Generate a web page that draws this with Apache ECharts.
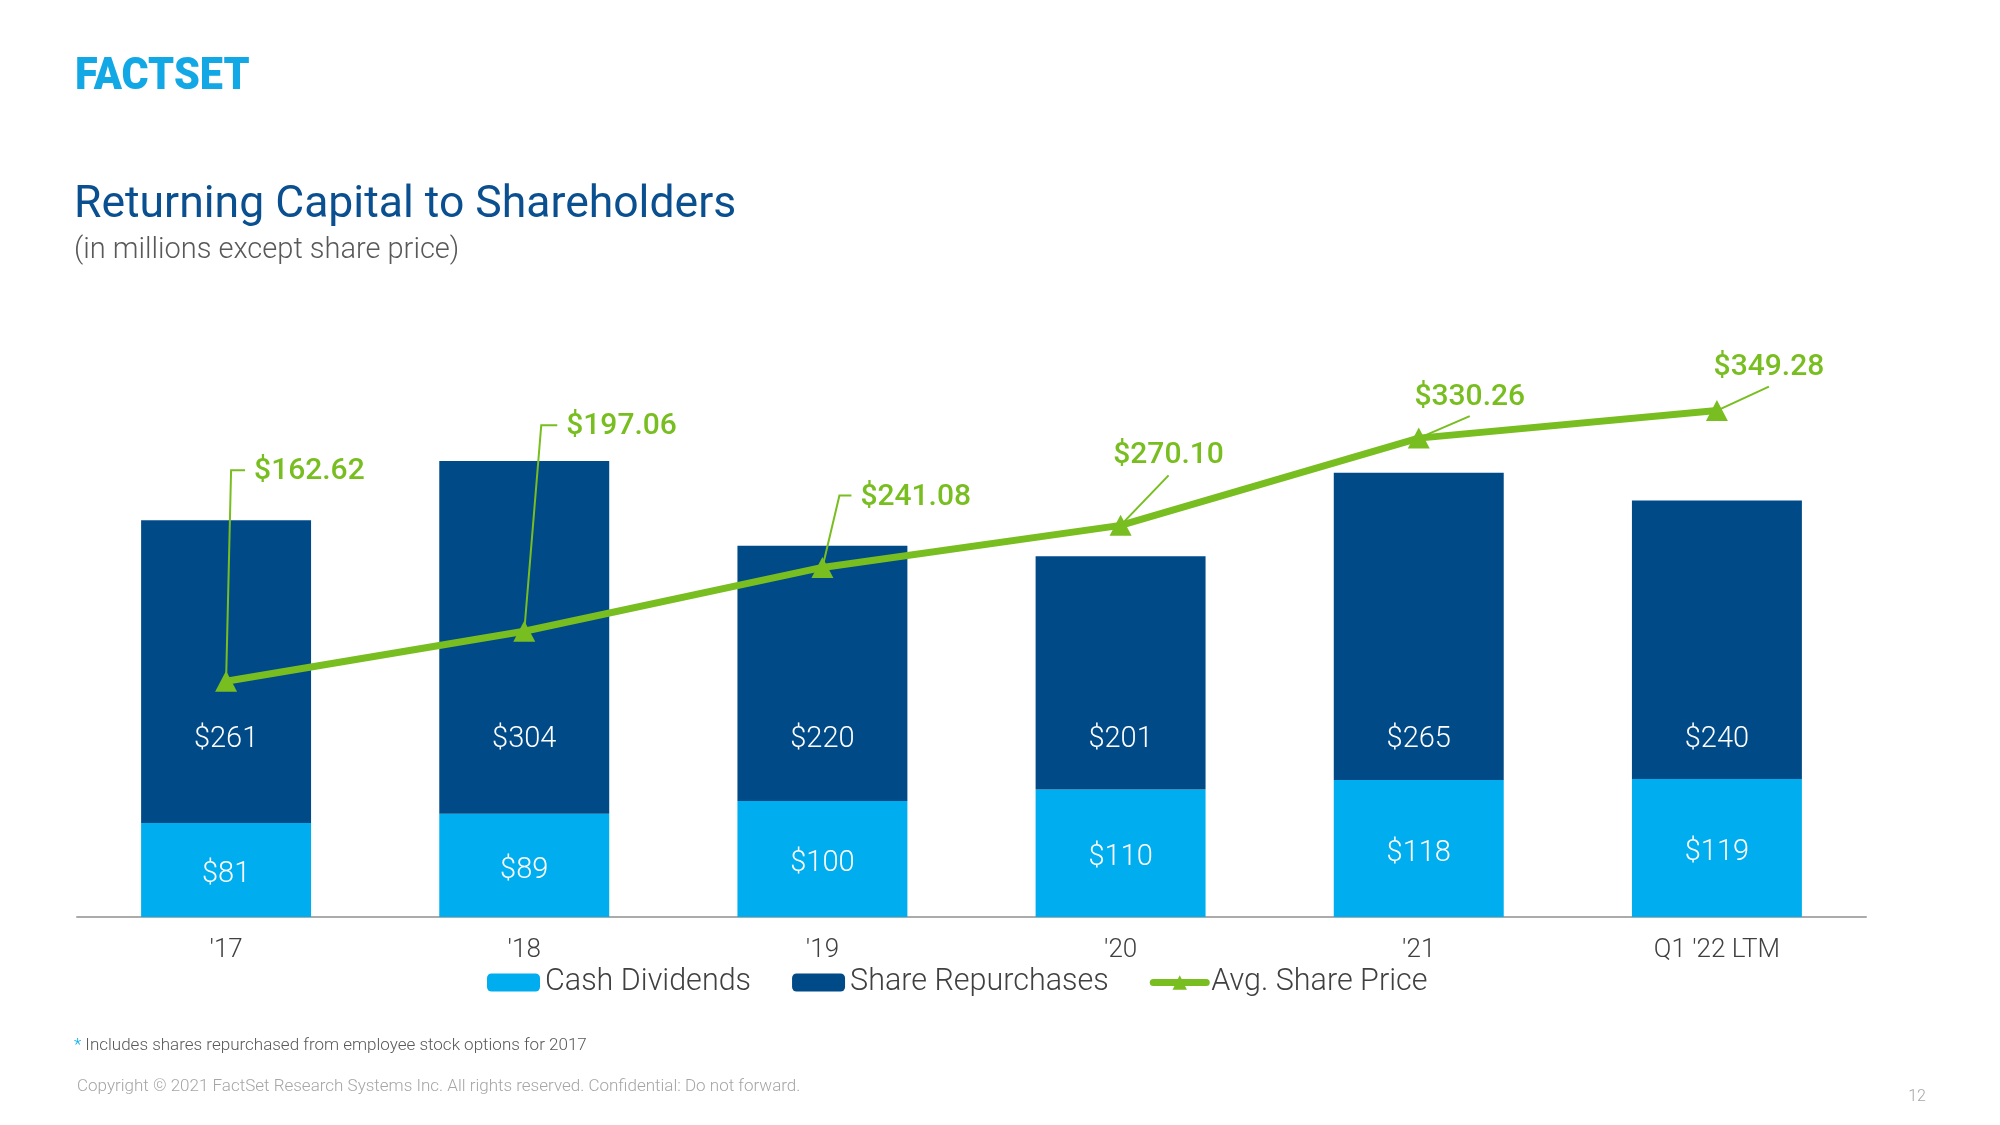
<!DOCTYPE html>
<html>
<head>
<meta charset="utf-8">
<script src="https://cdn.jsdelivr.net/npm/echarts@6/dist/echarts.min.js"></script>
<style>
  html, body { margin: 0; padding: 0; background: #ffffff; }
  #chart { width: 2000px; height: 1125px; }
</style>
</head>
<body>
<div id="chart"></div>
<script>
// ---- Data ----
const categories = ["'17", "'18", "'19", "'20", "'21", "Q1 '22 LTM"];
const cashDividends = [81, 89, 100, 110, 118, 119];
const shareRepurchases = [261, 304, 220, 201, 265, 240];
const avgSharePrice = [162.62, 197.06, 241.08, 270.10, 330.26, 349.28];
const seriesNames = ['Cash Dividends', 'Share Repurchases', 'Avg. Share Price'];

// ---- Styles ----
const C_DIV = '#00ADEF';
const C_REP = '#004A88';
const C_GREEN = '#78BE20';
const FONT = 'Roboto';

// callout offsets (px, relative to each price point): leader end, tick end, text anchor, text align
const calloutLayout = [
  { leader: [5, -211], tick: [19, -211], text: [28, -210], align: 'left' },
  { leader: [17, -206], tick: [33, -206], text: [42, -205], align: 'left' },
  { leader: [17, -72], tick: [29, -72], text: [38, -70], align: 'left' },
  { leader: [48, -50], tick: null, text: [48, -70], align: 'center' },
  { leader: [51, -22], tick: null, text: [51, -41], align: 'center' },
  { leader: [52, -24], tick: null, text: [52, -43], align: 'center' }
];

const chart = echarts.init(document.getElementById('chart'), null, { renderer: 'canvas' });

const option = {
  backgroundColor: '#ffffff',
  animation: false,
  textStyle: { fontFamily: FONT },
  grid: { left: 77, right: 134, top: 337, bottom: 208, containLabel: false },
  legend: {
    data: seriesNames,
    left: 487,
    top: 967,
    padding: 0,
    itemWidth: 53,
    itemHeight: 18,
    itemGap: 41,
    lineStyle: { width: 7, cap: 'round' },
    textStyle: { fontFamily: FONT, fontWeight: 300, fontSize: 30.5, color: '#404040', padding: [0, 0, 0, 0] }
  },
  xAxis: {
    type: 'category',
    data: categories,
    axisLine: { show: true, lineStyle: { color: '#ABABAB', width: 2 } },
    axisTick: { show: false },
    axisLabel: { interval: 0, margin: 20, fontFamily: FONT, fontWeight: 300, fontSize: 26, color: '#404040' }
  },
  yAxis: [
    { type: 'value', min: 0, max: 500, show: false, splitLine: { show: false } },
    { type: 'value', min: 0, max: 400, show: false, splitLine: { show: false } }
  ],
  series: [
    {
      name: seriesNames[0],
      type: 'bar',
      stack: 'total',
      barWidth: '57%',
      data: cashDividends,
      itemStyle: { color: C_DIV },
      label: {
        show: true, position: 'inside', offset: [0, 5],
        formatter: p => '$' + p.value,
        fontFamily: FONT, fontWeight: 300, fontSize: 29, color: '#ffffff'
      }
    },
    {
      name: seriesNames[1],
      type: 'bar',
      stack: 'total',
      barWidth: '57%',
      data: shareRepurchases,
      itemStyle: { color: C_REP },
      label: {
        show: true, position: 'inside',
        formatter: p => '$' + p.value,
        fontFamily: FONT, fontWeight: 300, fontSize: 29, color: '#ffffff'
      },
      labelLayout: { y: 740, align: 'center', verticalAlign: 'middle' }
    },
    {
      name: seriesNames[2],
      type: 'line',
      yAxisIndex: 1,
      data: avgSharePrice,
      symbol: 'triangle',
      symbolSize: [22, 21],
      lineStyle: { color: C_GREEN, width: 7, cap: 'round', join: 'round' },
      itemStyle: { color: C_GREEN },
      z: 5
    },
    {
      name: 'callouts',
      type: 'custom',
      yAxisIndex: 1,
      data: avgSharePrice.map((v, i) => [i, v]),
      encode: { x: 0, y: 1 },
      z: 4,
      silent: true,
      renderItem: function (params, api) {
        const i = params.dataIndex;
        const p = api.coord([api.value(0), api.value(1)]);
        const L = calloutLayout[i];
        const pts = [[p[0], p[1]], [p[0] + L.leader[0], p[1] + L.leader[1]]];
        if (L.tick) pts.push([p[0] + L.tick[0], p[1] + L.tick[1]]);
        return {
          type: 'group',
          children: [
            {
              type: 'polyline',
              shape: { points: pts },
              style: { stroke: C_GREEN, lineWidth: 2, fill: null }
            },
            {
              type: 'text',
              x: p[0] + L.text[0],
              y: p[1] + L.text[1],
              style: {
                text: '$' + avgSharePrice[i].toFixed(2),
                fill: C_GREEN,
                font: '500 30px ' + FONT,
                align: L.align,
                verticalAlign: 'middle'
              }
            }
          ]
        };
      }
    }
  ],
  graphic: [
    {
      type: 'text', x: 75, y: 78, scaleX: 0.92,
      style: { text: 'FACTSET', font: '900 45px ' + FONT, fill: '#12A8E6', align: 'left', verticalAlign: 'middle' }
    },
    {
      type: 'text', x: 74, y: 206,
      style: { text: 'Returning Capital to Shareholders', font: '400 44.5px ' + FONT, fill: '#0A4F8F', align: 'left', verticalAlign: 'middle' }
    },
    {
      type: 'text', x: 74, y: 251,
      style: { text: '(in millions except share price)', font: '300 29px ' + FONT, fill: '#595959', align: 'left', verticalAlign: 'middle' }
    },
    {
      type: 'text', x: 74, y: 1046,
      style: {
        text: '{a|*} Includes shares repurchased from employee stock options for 2017',
        font: '300 17px ' + FONT, fill: '#595959', align: 'left', verticalAlign: 'middle',
        rich: { a: { fill: '#00ADEF', font: '300 17px ' + FONT } }
      }
    },
    {
      type: 'text', x: 77, y: 1087,
      style: { text: 'Copyright \u00A9 2021 FactSet Research Systems Inc. All rights reserved. Confidential: Do not forward.', font: '300 17px ' + FONT, fill: '#A6A6A6', align: 'left', verticalAlign: 'middle' }
    },
    {
      type: 'text', x: 1917, y: 1097,
      style: { text: '12', font: '300 16px ' + FONT, fill: '#A6A6A6', align: 'center', verticalAlign: 'middle' }
    }
  ]
};

chart.setOption(option);
</script>
</body>
</html>
